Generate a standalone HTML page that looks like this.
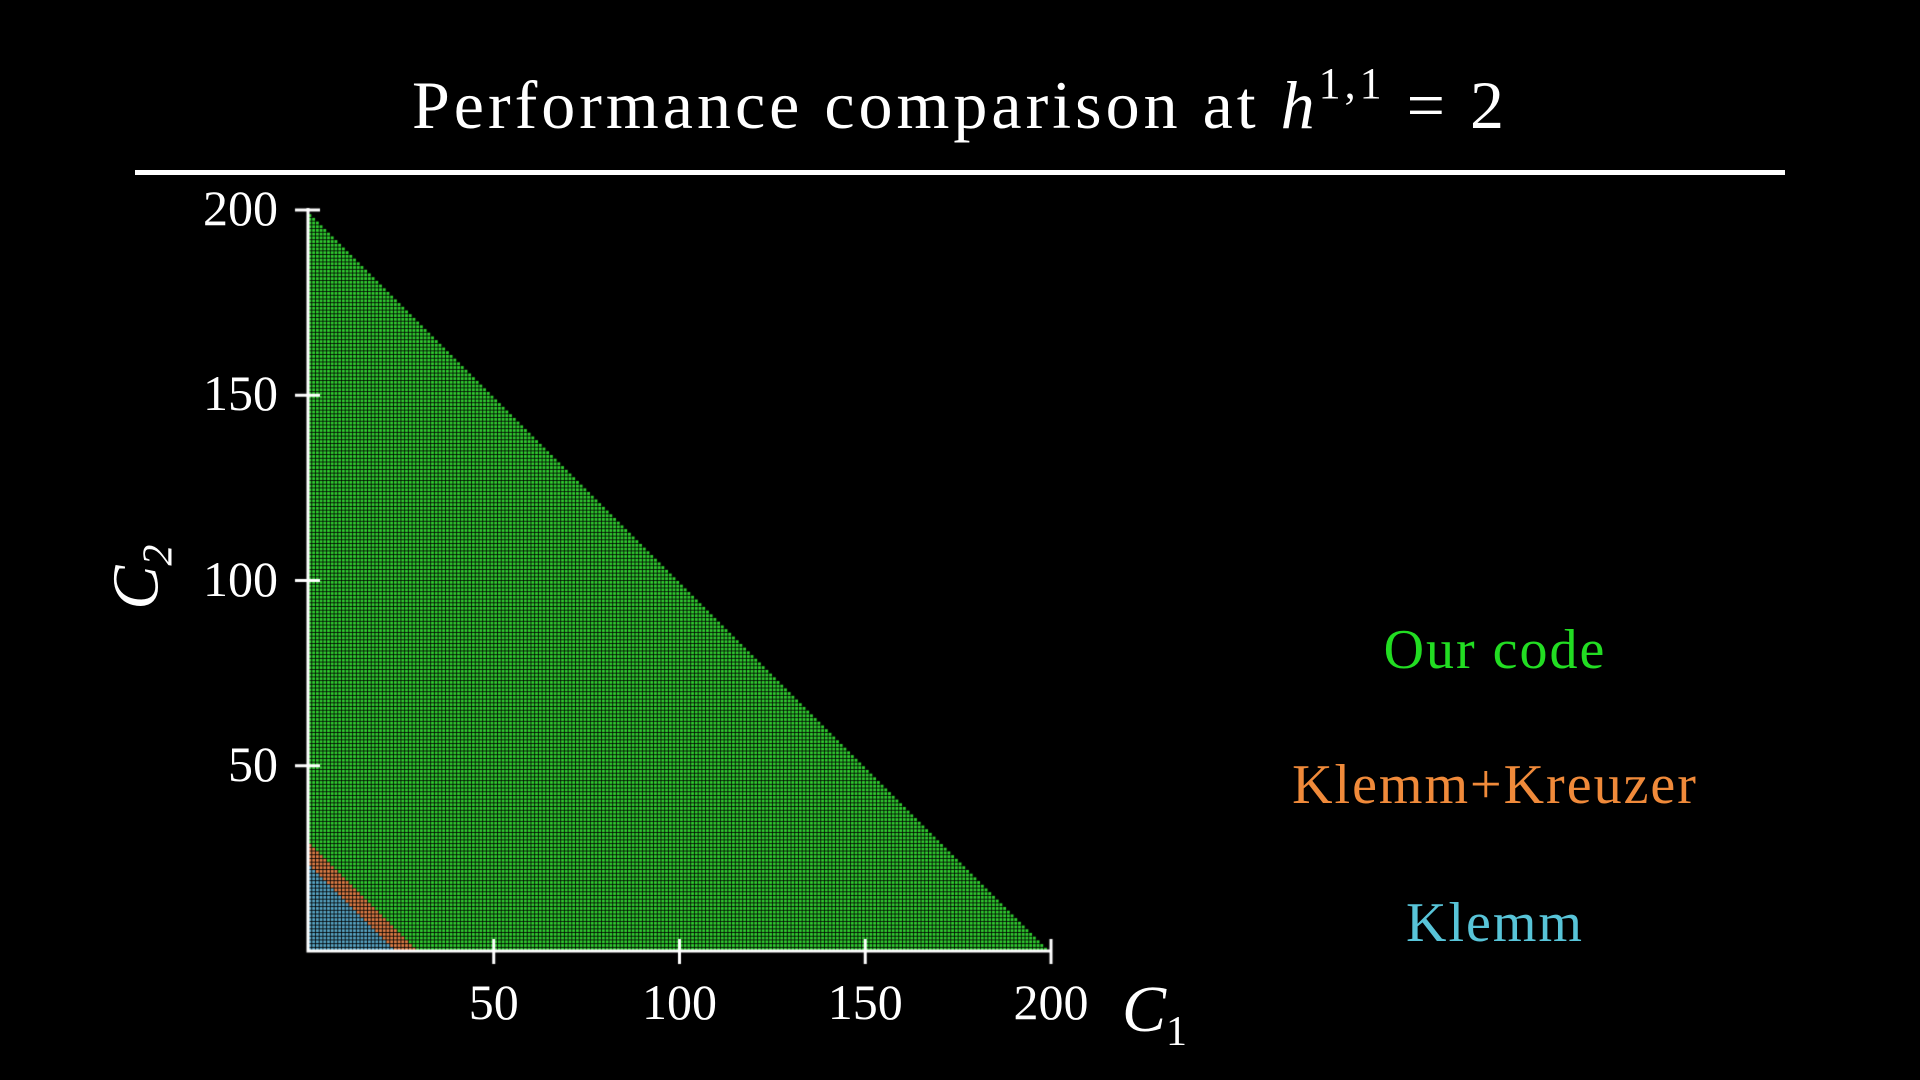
<!DOCTYPE html>
<html><head><meta charset="utf-8"><style>
html,body{margin:0;padding:0;background:#000;width:1920px;height:1080px;overflow:hidden}
.t{position:absolute;font-family:"Liberation Serif","DejaVu Serif",serif;color:#fff;white-space:nowrap}
</style></head><body>
<div class="t" style="left:0;width:1920px;top:58px;text-align:center;font-size:68px;letter-spacing:4px">Performance comparison at <i>h</i><sup style="font-size:44px;vertical-align:30px">1,1</sup> = 2</div>
<div style="position:absolute;left:135px;top:170px;width:1650px;height:5px;background:#fff"></div>
<canvas id="c" width="1920" height="1080" style="position:absolute;left:0;top:0"></canvas>
<div id="labels"></div>
<div class="t" style="left:108px;top:535px;font-size:66px;transform:rotate(-90deg);font-style:italic">C<sub style="font-size:42px">2</sub></div>
<div class="t" style="left:1122px;top:972px;font-size:66px;font-style:italic">C<sub style="font-size:42px;font-style:normal">1</sub></div>
<div class="t" style="left:1245px;width:500px;text-align:center;top:618px;font-size:56px;letter-spacing:2px;color:#22dd22">Our code</div>
<div class="t" style="left:1245px;width:500px;text-align:center;top:753px;font-size:56px;letter-spacing:2px;color:#f08a3a">Klemm+Kreuzer</div>
<div class="t" style="left:1245px;width:500px;text-align:center;top:891px;font-size:56px;letter-spacing:2px;color:#58c4d8">Klemm</div>
<script>
const methods=['Our code','Klemm+Kreuzer','Klemm'];
const maxSum=[200,30,24];
const colors=['#32d232','#e28048','#5aa8c8'];
const xTicks=[50,100,150,200];
const yTicks=[50,100,150,200];
const X0=308,X1=1051,Y0=951,Y1=210;
const sx=v=>X0+(v/200)*(X1-X0);
const sy=v=>Y0-(v/200)*(Y0-Y1);
const ctx=document.getElementById('c').getContext('2d');
const pitch=(X1-X0)/200;
for(let a=1;a<=200;a++){for(let b=1;a+b<=maxSum[0];b++){
  let k=0;for(let m=0;m<methods.length;m++){if(a+b<=maxSum[m])k=m;}
  ctx.fillStyle=colors[k];
  ctx.fillRect(sx(a)-pitch+0.5,sy(b)+0.5,pitch*0.76,pitch*0.76);
}}
ctx.strokeStyle='#fff';ctx.lineWidth=3;
ctx.beginPath();ctx.moveTo(X0,Y1-2);ctx.lineTo(X0,Y0);ctx.lineTo(X1,Y0);ctx.stroke();
const L=document.getElementById('labels');
xTicks.forEach(v=>{
  ctx.beginPath();ctx.moveTo(sx(v),Y0-12);ctx.lineTo(sx(v),Y0+13);ctx.stroke();
  const d=document.createElement('div');d.className='t';
  
  
  d.style.cssText=`left:${sx(v)-100}px;width:200px;text-align:center;top:973px;font-size:50px`;
  d.textContent=v;L.appendChild(d);
});
yTicks.forEach(v=>{
  ctx.beginPath();ctx.moveTo(X0-13,sy(v));ctx.lineTo(X0+12,sy(v));ctx.stroke();
  const d=document.createElement('div');d.className='t';
  
  
  d.style.cssText=`left:78px;width:200px;text-align:right;top:${sy(v)-31}px;font-size:50px`;
  d.textContent=v;L.appendChild(d);
});
</script>
</body></html>
